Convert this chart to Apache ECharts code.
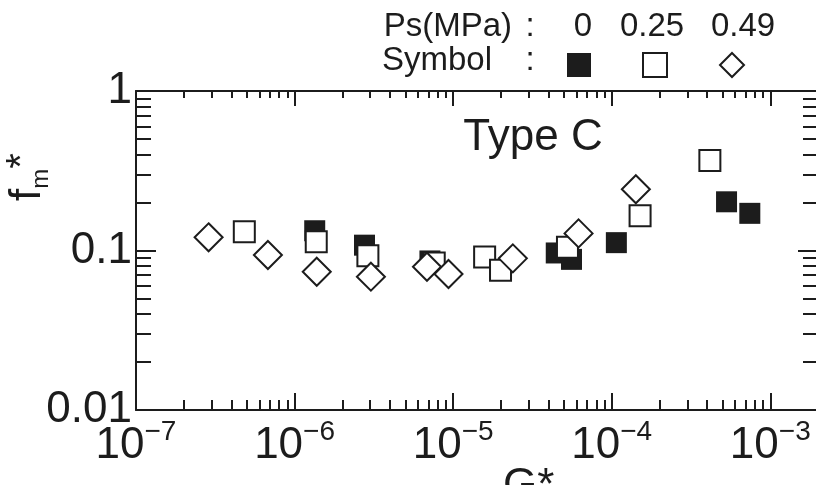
<!DOCTYPE html>
<html>
<head>
<meta charset="utf-8">
<script src="https://cdn.jsdelivr.net/npm/echarts@6/dist/echarts.min.js"></script>
<style>
  html, body { margin: 0; background: #fff; }
  #chart { width: 816px; height: 485px; }
</style>
</head>
<body>
<div id="chart"></div>
<script>
// Ps = 0 MPa  (filled squares)
var g0  = [1.34e-6, 2.76e-6, 7.14e-6, 4.47e-5, 5.58e-5, 1.07e-4, 5.30e-4, 7.43e-4];
var f0  = [0.133, 0.108, 0.086, 0.0965, 0.088, 0.112, 0.202, 0.171];
// Ps = 0.25 MPa  (open squares)
var g25 = [4.82e-7, 1.37e-6, 2.90e-6, 7.60e-6, 1.58e-5, 1.99e-5, 5.26e-5, 1.51e-4, 4.16e-4];
var f25 = [0.131, 0.1135, 0.0927, 0.0835, 0.091, 0.0751, 0.1047, 0.165, 0.367];
// Ps = 0.49 MPa  (diamonds)
var g49 = [2.87e-7, 6.79e-7, 1.38e-6, 3.03e-6, 6.84e-6, 9.35e-6, 2.38e-5, 6.18e-5, 1.42e-4];
var f49 = [0.121, 0.0937, 0.0736, 0.0685, 0.0791, 0.0712, 0.0893, 0.128, 0.242];

var seriesNames = ['0', '0.25', '0.49'];
var xMajor = [1e-7, 1e-6, 1e-5, 1e-4, 1e-3];
var yMajor = [0.01, 0.1, 1];
var yLabels = ['0.01', '0.1', '1'];

// 2..9 x 10^k between the decades
function minors(majors, upto) {
  var out = [];
  majors.forEach(function (m) {
    for (var k = 2; k <= 9; k++) {
      if (m * k <= upto) out.push(m * k);
    }
  });
  return out;
}
var xMinor = minors(xMajor, 2e-3);
var yMinor = minors(yMajor.slice(0, 2), 1);

function zip(a, b) { return a.map(function (v, i) { return [v, b[i]]; }); }

var ink = '#1c1c1c';
var font = '"Liberation Sans", Arial, sans-serif';

function xAx(pos, vals, len, line, labels) {
  return {
    type: 'log', logBase: 10, min: 1e-7, max: 2e-3, position: pos,
    axisLine: { show: line, lineStyle: { color: ink, width: 2 } },
    axisTick: { show: true, inside: true, length: len, customValues: vals,
                lineStyle: { color: ink, width: 2 } },
    axisLabel: labels ? {
      show: true, customValues: xMajor, margin: 8,
      formatter: function (v) {
        return '{b|10}{s|\u2212' + Math.round(-Math.log10(v)) + '}';
      },
      rich: {
        b: { fontSize: 44, lineHeight: 56, fontFamily: font, color: ink },
        s: { fontSize: 28, lineHeight: 28, fontFamily: font, color: ink, verticalAlign: 'top' }
      }
    } : { show: false },
    splitLine: { show: false }
  };
}
function yAx(pos, vals, len, line, labels) {
  return {
    type: 'log', logBase: 10, min: 0.01, max: 1, position: pos,
    axisLine: { show: line, lineStyle: { color: ink, width: 2 } },
    axisTick: { show: true, inside: true, length: len, customValues: vals,
                lineStyle: { color: ink, width: 2 } },
    axisLabel: labels ? {
      show: true, customValues: yMajor, margin: 4,
      fontSize: 44, fontFamily: font, color: ink,
      formatter: function (v) { return yLabels[yMajor.indexOf(+v.toPrecision(3))] || String(v); }
    } : { show: false },
    splitLine: { show: false }
  };
}

var chart = echarts.init(document.getElementById('chart'));
var option = {
  animation: false,
  backgroundColor: '#fff',
  grid: { left: 136, top: 91, width: 682, height: 319, containLabel: false, outerBoundsMode: 'none' },
  xAxis: [
    xAx('bottom', xMajor, 17, true, true),
    xAx('bottom', xMinor, 10, false, false),
    xAx('top', xMajor, 15, true, false),
    xAx('top', xMinor, 7, false, false)
  ],
  yAxis: [
    yAx('left', yMajor, 20, true, true),
    yAx('left', yMinor, 15, false, false),
    yAx('right', yMajor, 20, true, false),
    yAx('right', yMinor, 15, false, false)
  ],
  legend: {
    data: seriesNames,
    left: 567, top: 52, padding: 0,
    itemWidth: 24, itemHeight: 24, itemGap: 51,
    formatter: function () { return ''; },
    selectedMode: false
  },
  series: [
    { name: seriesNames[0], type: 'scatter', data: zip(g0, f0), z: 3,
      symbol: 'rect', symbolSize: 21,
      itemStyle: { color: ink, opacity: 1 } },
    { name: seriesNames[1], type: 'scatter', data: zip(g25, f25), z: 4,
      symbol: 'rect', symbolSize: 21,
      itemStyle: { color: '#fff', borderColor: ink, borderWidth: 2, opacity: 1 } },
    { name: seriesNames[2], type: 'scatter', data: zip(g49, f49), z: 5,
      symbol: 'diamond', symbolSize: 28,
      itemStyle: { color: '#fff', borderColor: ink, borderWidth: 2, opacity: 1 } }
  ],
  graphic: [
    { type: 'text', x: 533, y: 138,
      style: { text: 'Type C', font: '44px ' + font, fill: ink, align: 'center', verticalAlign: 'middle' } },
    { type: 'text', x: 512, y: 27,
      style: { text: 'Ps(MPa)', font: '33px ' + font, fill: ink, align: 'right', verticalAlign: 'middle' } },
    { type: 'text', x: 530, y: 27,
      style: { text: ':', font: '33px ' + font, fill: ink, align: 'center', verticalAlign: 'middle' } },
    { type: 'text', x: 583, y: 27,
      style: { text: seriesNames[0], font: '33px ' + font, fill: ink, align: 'center', verticalAlign: 'middle' } },
    { type: 'text', x: 652, y: 27,
      style: { text: seriesNames[1], font: '33px ' + font, fill: ink, align: 'center', verticalAlign: 'middle' } },
    { type: 'text', x: 743, y: 27,
      style: { text: seriesNames[2], font: '33px ' + font, fill: ink, align: 'center', verticalAlign: 'middle' } },
    { type: 'text', x: 492, y: 61,
      style: { text: 'Symbol', font: '33px ' + font, fill: ink, align: 'right', verticalAlign: 'middle' } },
    { type: 'text', x: 530, y: 61,
      style: { text: ':', font: '33px ' + font, fill: ink, align: 'center', verticalAlign: 'middle' } },
    { type: 'text', x: 503, y: 487,
      style: { text: 'G*', font: '44px ' + font, fill: ink, align: 'left', verticalAlign: 'middle' } },
    { type: 'text', x: 28, y: 177, rotation: Math.PI / 2,
      style: {
        text: '{f|f}{m|m}{s|*}', align: 'center', verticalAlign: 'middle',
        rich: {
          f: { fontSize: 44, lineHeight: 50, fontFamily: font, fill: ink },
          m: { fontSize: 24, lineHeight: 24, fontFamily: font, fill: ink, verticalAlign: 'bottom' },
          s: { fontSize: 40, lineHeight: 40, fontFamily: font, fill: ink, verticalAlign: 'top' }
        }
      } }
  ]
};
chart.setOption(option);
window.onresize = function () { chart.resize(); };
</script>
</body>
</html>
